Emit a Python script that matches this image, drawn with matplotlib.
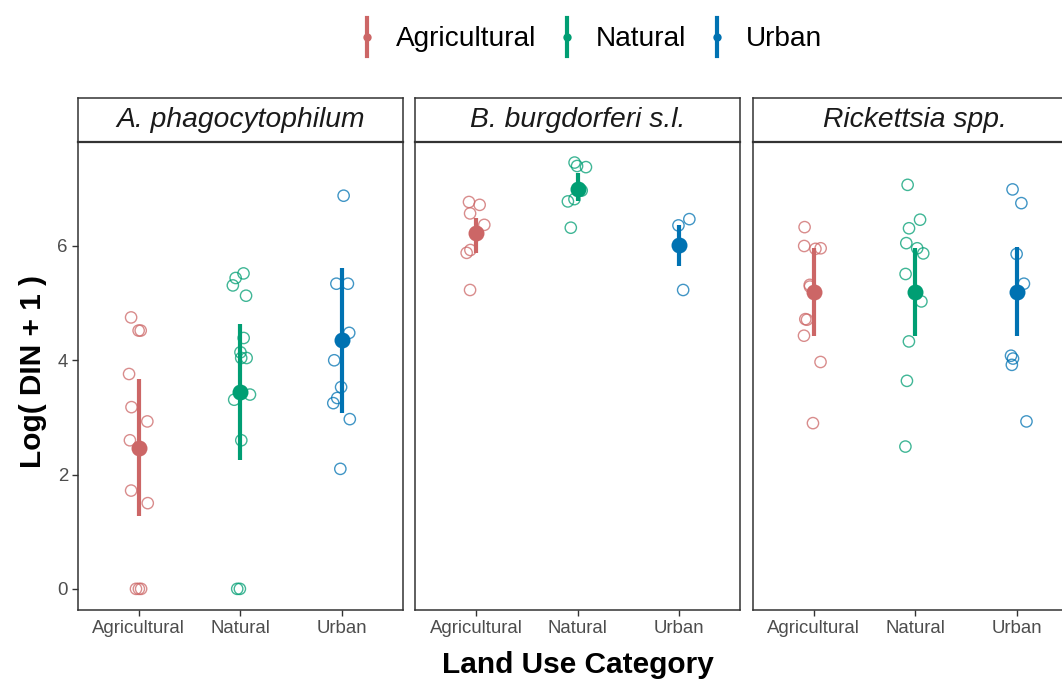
import numpy as np
import matplotlib
matplotlib.use("Agg")
import matplotlib.pyplot as plt
from matplotlib.lines import Line2D

plt.rcParams['font.family'] = ['Liberation Sans', 'DejaVu Sans']

# ---------------- data ----------------
categories = ["Agricultural", "Natural", "Urban"]
pathogens = ["A. phagocytophilum", "B. burgdorferi s.l.", "Rickettsia spp."]
colors = ["#CC6666", "#009E73", "#0072B2"]

# raw observations, Log(DIN + 1)
aph_agricultural = [4.75, 4.52, 4.52, 3.76, 3.18, 2.93, 2.60, 1.72, 1.50, 0.0, 0.0, 0.0]
aph_natural = [5.52, 5.44, 5.31, 5.13, 4.39, 4.14, 4.04, 4.04, 3.40, 3.31, 2.60, 0.0, 0.0]
aph_urban = [6.88, 5.34, 5.34, 4.48, 4.00, 3.53, 3.34, 3.25, 2.97, 2.10]

bb_agricultural = [6.77, 6.72, 6.57, 6.37, 5.93, 5.88, 5.23]
bb_natural = [7.46, 7.40, 7.38, 6.97, 6.82, 6.78, 6.32]
bb_urban = [6.47, 6.36, 5.23]

rick_agricultural = [6.33, 6.00, 5.96, 5.95, 5.32, 5.29, 4.72, 4.71, 4.43, 3.97, 2.90]
rick_natural = [7.07, 6.46, 6.31, 6.05, 5.96, 5.87, 5.51, 5.03, 4.33, 3.64, 2.49]
rick_urban = [6.99, 6.75, 5.86, 5.34, 4.08, 4.03, 3.92, 2.93]

# summary (mean and confidence interval) per pathogen, per category
aph_mean = [2.47, 3.45, 4.35]
aph_lo = [1.27, 2.26, 3.08]
aph_hi = [3.67, 4.64, 5.62]

bb_mean = [6.22, 7.00, 6.02]
bb_lo = [5.87, 6.78, 5.65]
bb_hi = [6.49, 7.27, 6.37]

rick_mean = [5.20, 5.20, 5.20]
rick_lo = [4.42, 4.42, 4.42]
rick_hi = [5.96, 5.96, 5.98]

y_ticks = [0, 2, 4, 6]

panels = [
    ([aph_agricultural, aph_natural, aph_urban], aph_mean, aph_lo, aph_hi),
    ([bb_agricultural, bb_natural, bb_urban], bb_mean, bb_lo, bb_hi),
    ([rick_agricultural, rick_natural, rick_urban], rick_mean, rick_lo, rick_hi),
]

# ---------------- layout ----------------
W, H = 1062, 682
fig = plt.figure(figsize=(W / 100, H / 100), dpi=100)

def fx(px):
    return px / W

def fy(py):
    return 1 - py / H

panel_left = [77.7, 415.2, 752.7]
panel_w = 325.0
panel_top, panel_bot = 141.7, 610.0
strip_top = 98.3

edge = "#333333"
tick_col = "#4D4D4D"
rng = np.random.default_rng(11)

for i, (groups, means, lo, hi) in enumerate(panels):
    ax = fig.add_axes([fx(panel_left[i]), fy(panel_bot), panel_w / W, (panel_bot - panel_top) / H])
    for j, vals in enumerate(groups):
        vals = np.asarray(vals)
        xj = j + rng.uniform(-0.1, 0.1, size=len(vals))
        ax.scatter(xj, vals, s=66, facecolors="none", edgecolors=colors[j],
                   linewidths=1.0, alpha=0.75, zorder=2)
    for j in range(len(categories)):
        ax.vlines(j, lo[j], hi[j], color=colors[j], lw=3.0, zorder=3)
        ax.plot([j], [means[j]], 'o', color=colors[j], ms=11.5, mew=0, zorder=4)
    ax.set_xlim(-0.6, 2.6)
    ax.set_ylim(-0.37, 7.825)
    ax.set_xticks(range(len(categories)))
    ax.set_xticklabels(categories)
    ax.set_yticks(y_ticks)
    if i > 0:
        ax.tick_params(axis='y', left=False, labelleft=False)
    ax.tick_params(axis='both', length=4, width=1.0, color=edge, labelcolor=tick_col,
                   labelsize=13.4, pad=3)
    for sp in ax.spines.values():
        sp.set_color(edge)
        sp.set_linewidth(1.1)
    # strip
    sax = fig.add_axes([fx(panel_left[i]), fy(panel_top), panel_w / W, (panel_top - strip_top) / H])
    sax.set_xticks([])
    sax.set_yticks([])
    for sp in sax.spines.values():
        sp.set_color(edge)
        sp.set_linewidth(1.1)
    sax.spines['bottom'].set_linewidth(1.6)
    sax.text(0.5, 0.5, pathogens[i], ha='center', va='center', fontsize=20.3,
             style='italic', color="#1A1A1A", transform=sax.transAxes)

# axis titles
fig.text(fx(577.7), fy(673), "Land Use Category", ha='center', va='baseline',
         fontsize=21.5, fontweight='bold')
fig.text(fx(33), fy(371.5), "Log( DIN + 1 )", ha='center', va='center', rotation=90,
         fontsize=21.5, fontweight='bold')

# legend
leg_line_x = [366.7, 566.7, 716.7]
for j, cat in enumerate(categories):
    x = leg_line_x[j]
    fig.add_artist(Line2D([fx(x), fx(x)], [fy(18.3), fy(55.5)], color=colors[j], lw=3.0,
                          transform=fig.transFigure))
    fig.add_artist(Line2D([fx(x)], [fy(36.8)], marker='o', ms=6.0, color=colors[j], mew=0,
                          transform=fig.transFigure))
    fig.text(fx(x + 29.5), fy(35.5), cat, ha='left', va='center_baseline', fontsize=20.2,
             color="#000000")

fig.savefig("out.png", dpi=100)
